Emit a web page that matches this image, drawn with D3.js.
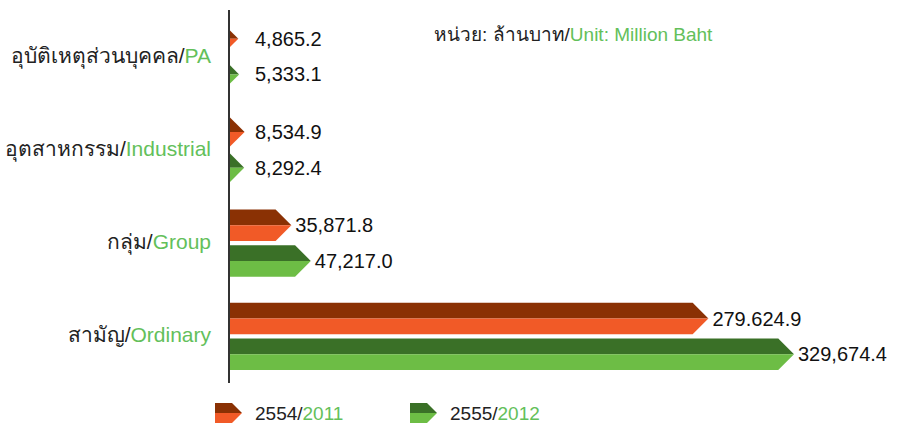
<!DOCTYPE html>
<html>
<head>
<meta charset="utf-8">
<script src="https://cdn.jsdelivr.net/npm/d3@7"></script>
<style>
  html, body { margin: 0; padding: 0; background: #fff; }
  svg { display: block; font-family: "Liberation Sans", Arial, "Noto Sans", sans-serif; }
</style>
</head>
<body>
<svg id="chart" width="899" height="425"></svg>
<script>
// ---- Data ----
const categoriesTh = ["อุบัติเหตุส่วนบุคคล", "อุตสาหกรรม", "กลุ่ม", "สามัญ"];
const categoriesEn = ["PA", "Industrial", "Group", "Ordinary"];
const seriesTh = ["2554", "2555"];
const seriesEn = ["2011", "2012"];
const values2011 = [4865.2, 8534.9, 35871.8, 279624.9];
const values2012 = [5333.1, 8292.4, 47217.0, 329674.4];
const valueLabels2011 = ["4,865.2", "8,534.9", "35,871.8", "279.624.9"];
const valueLabels2012 = ["5,333.1", "8,292.4", "47,217.0", "329,674.4"];
const unitTh = "หน่วย: ล้านบาท/";
const unitEn = "Unit: Million Baht";

// ---- Styles ----
const darkColors = ["#8a3104", "#3a7027"];
const lightColors = ["#f15a27", "#6dbd45"];
const greenText = "#63c05a";
const darkText = "#222222";

const svg = d3.select("#chart");
const axisX = 230;

const y = d3.scaleBand().domain(categoriesEn).range([10, 383])
  .paddingInner(0.28).paddingOuter(0.14);
const ySub = d3.scaleBand().domain(seriesEn).range([0, y.bandwidth()]).paddingInner(0.12);
const x = d3.scaleLinear().domain([0, 329674.4]).range([axisX, 794]);

function arrowParts(x0, x1, top, h) {
  const mid = top + h / 2;
  const w = x1 - x0;
  const half = h / 2;
  let upper, lower;
  if (w >= half) {
    const xb = x1 - half;
    upper = [[x0, top], [xb, top], [x1, mid], [x0, mid]];
    lower = [[x0, mid], [x1, mid], [xb, top + h], [x0, top + h]];
  } else {
    upper = [[x0, mid - w], [x1, mid], [x0, mid]];
    lower = [[x0, mid], [x1, mid], [x0, mid + w]];
  }
  return [upper, lower];
}
const line = d3.line();

const rows = [];
categoriesEn.forEach((c, i) => {
  rows.push({ cat: c, s: 0, v: values2011[i], label: valueLabels2011[i] });
  rows.push({ cat: c, s: 1, v: values2012[i], label: valueLabels2012[i] });
});

const g = svg.append("g");
rows.forEach(r => {
  const top = y(r.cat) + ySub(seriesEn[r.s]);
  const h = ySub.bandwidth();
  const [up, lo] = arrowParts(x(0), x(r.v), top, h);
  g.append("path").attr("d", line(up) + "Z").attr("fill", darkColors[r.s]);
  g.append("path").attr("d", line(lo) + "Z").attr("fill", lightColors[r.s]);
  g.append("text")
    .attr("x", Math.max(x(r.v) + 4, 255))
    .attr("y", top + h / 2)
    .attr("dominant-baseline", "central")
    .attr("font-size", 20)
    .attr("fill", "#111")
    .text(r.label);
});

// axis line
svg.append("line")
  .attr("x1", axisX - 1).attr("x2", axisX - 1)
  .attr("y1", y.range()[0]).attr("y2", y.range()[1])
  .attr("stroke", "#333").attr("stroke-width", 2);

// category labels
categoriesEn.forEach((c, i) => {
  const t = svg.append("text")
    .attr("x", 211)
    .attr("y", y(c) + y.bandwidth() / 2 - 2)
    .attr("text-anchor", "end")
    .attr("dominant-baseline", "central")
    .attr("font-size", 21);
  t.append("tspan").attr("fill", darkText).text(categoriesTh[i] + "/");
  t.append("tspan").attr("fill", greenText).text(c);
});

// unit label
const u = svg.append("text").attr("x", 434).attr("y", 34)
  .attr("dominant-baseline", "central").attr("font-size", 19);
u.append("tspan").attr("fill", darkText).text(unitTh);
u.append("tspan").attr("fill", greenText).text(unitEn);

// legend
const legX = [215, 410];
seriesEn.forEach((s, i) => {
  const lx = legX[i], top = 403, h = 20;
  const [up, lo] = arrowParts(lx, lx + 27, top, h);
  svg.append("path").attr("d", line(up) + "Z").attr("fill", darkColors[i]);
  svg.append("path").attr("d", line(lo) + "Z").attr("fill", lightColors[i]);
  const t = svg.append("text").attr("x", lx + 40).attr("y", top + h / 2)
    .attr("dominant-baseline", "central").attr("font-size", 19);
  t.append("tspan").attr("fill", darkText).text(seriesTh[i] + "/");
  t.append("tspan").attr("fill", greenText).text(s);
});
</script>
</body>
</html>
